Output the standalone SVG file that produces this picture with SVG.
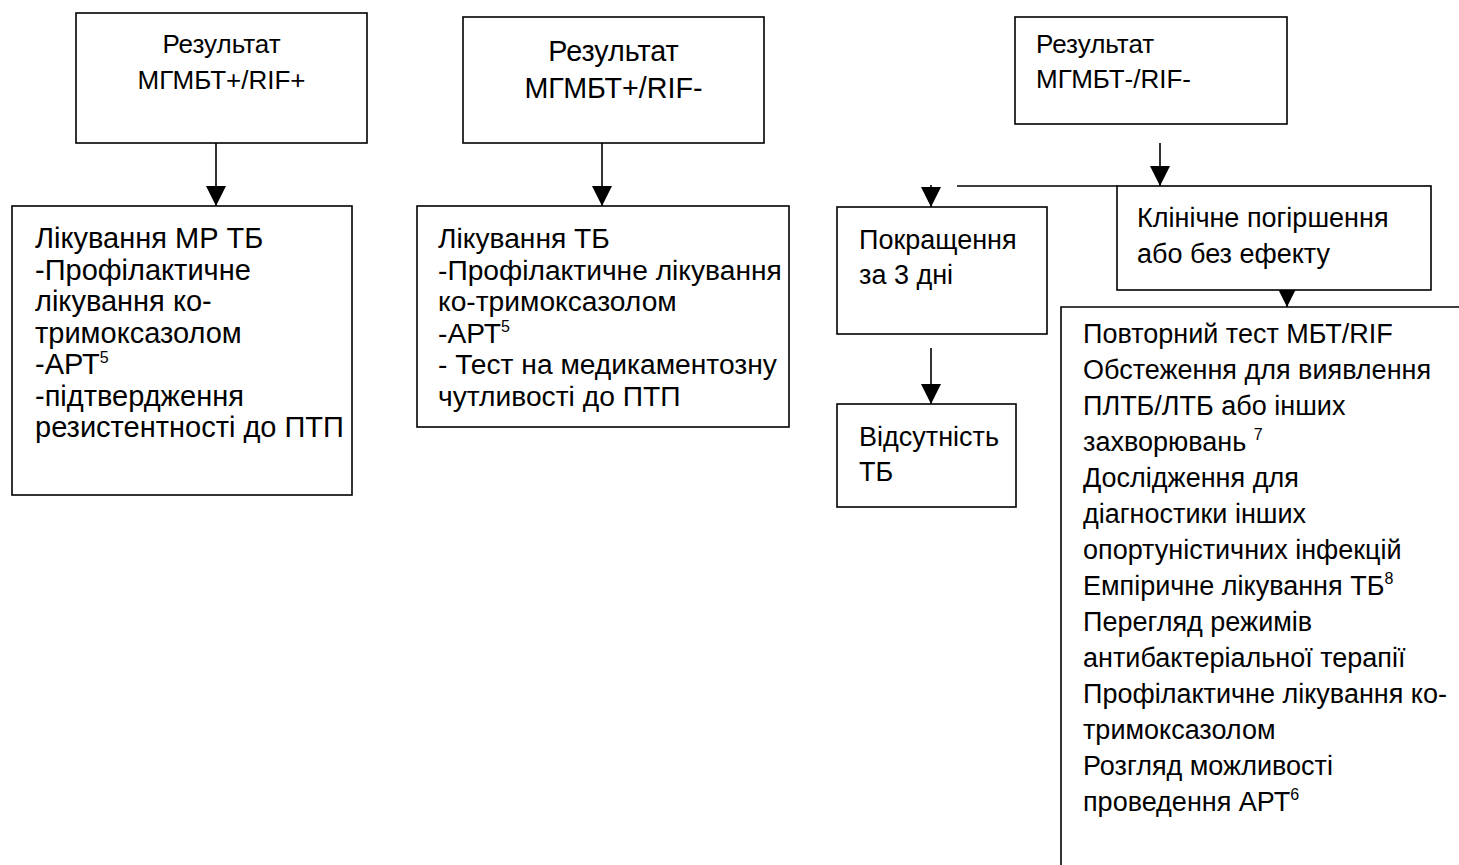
<svg xmlns="http://www.w3.org/2000/svg" width="1459" height="865" viewBox="0 0 1459 865">
<style>
.box{fill:#fff;stroke:#000;stroke-width:1.6}
.ln{fill:none;stroke:#000;stroke-width:1.6}
.t{font-family:"Liberation Sans",Arial,sans-serif;fill:#000}
.title{font-size:26px}
.title2{font-size:28.7px}
.b1{font-size:29px}
.b2{font-size:28.2px}
.br{font-size:27px}
.sup{font-size:16px}
</style>
<defs>
<marker id="ah" markerUnits="userSpaceOnUse" markerWidth="20" markerHeight="20" refX="20" refY="10" orient="auto" viewBox="0 0 20 20">
<path d="M0,0 L20,10 L0,20 z" fill="#000"/>
</marker>
</defs>
<rect width="1459" height="865" fill="#fff"/>

<g id="connectors">
<line class="ln" x1="216" y1="143" x2="216" y2="206" marker-end="url(#ah)"/>
<line class="ln" x1="602" y1="143" x2="602" y2="206" marker-end="url(#ah)"/>
<line class="ln" x1="1160" y1="143" x2="1160" y2="186" marker-end="url(#ah)"/>
<line class="ln" x1="957" y1="186" x2="1117" y2="186"/>
<line class="ln" x1="931" y1="185" x2="931" y2="207" marker-end="url(#ah)"/>
<line class="ln" x1="931" y1="348" x2="931" y2="404" marker-end="url(#ah)"/>
<line class="ln" x1="1287" y1="278" x2="1287" y2="307" marker-end="url(#ah)"/>
</g>

<g id="node-result1">
<rect class="box" x="76" y="13" width="291" height="130"/>
<text class="t title" x="221.5" y="53" text-anchor="middle">Результат</text>
<text class="t title" x="221.5" y="89" text-anchor="middle">МГМБТ+/RIF+</text>
</g>

<g id="node-result2">
<rect class="box" x="463" y="17" width="301" height="126"/>
<text class="t title2" x="613.5" y="61" text-anchor="middle">Результат</text>
<text class="t title2" x="613.5" y="98" text-anchor="middle">МГМБТ+/RIF-</text>
</g>

<g id="node-result3">
<rect class="box" x="1015" y="17" width="272" height="107"/>
<text class="t title" x="1036" y="53">Результат</text>
<text class="t title" x="1036" y="88">МГМБТ-/RIF-</text>
</g>

<g id="node-mdr">
<rect class="box" x="12" y="206" width="340" height="289"/>
<text class="t b1" x="35" y="248">Лікування МР ТБ</text>
<text class="t b1" x="35" y="279.5">-Профілактичне</text>
<text class="t b1" x="35" y="311">лікування ко-</text>
<text class="t b1" x="35" y="342.5">тримоксазолом</text>
<text class="t b1" x="35" y="374">-АРТ<tspan class="sup" dy="-11">5</tspan></text>
<text class="t b1" x="35" y="405.5">-підтвердження</text>
<text class="t b1" x="35" y="437">резистентності до ПТП</text>
</g>

<g id="node-tb">
<rect class="box" x="417" y="206" width="372" height="221"/>
<text class="t b2" x="438" y="248">Лікування ТБ</text>
<text class="t b2" x="438" y="279.5">-Профілактичне лікування</text>
<text class="t b2" x="438" y="311">ко-тримоксазолом</text>
<text class="t b2" x="438" y="342.5">-АРТ<tspan class="sup" dy="-11">5</tspan></text>
<text class="t b2" x="438" y="374">- Тест на медикаментозну</text>
<text class="t b2" x="438" y="405.5">чутливості до ПТП</text>
</g>

<g id="node-improve">
<rect class="box" x="837" y="207" width="210" height="127"/>
<text class="t br" x="859" y="249">Покращення</text>
<text class="t br" x="859" y="284">за 3 дні</text>
</g>

<g id="node-notb">
<rect class="box" x="837" y="404" width="179" height="103"/>
<text class="t br" x="859" y="446">Відсутність</text>
<text class="t br" x="859" y="481">ТБ</text>
</g>

<g id="node-worse">
<rect class="box" x="1117" y="186" width="314" height="104"/>
<text class="t br" x="1137" y="227">Клінічне погіршення</text>
<text class="t br" x="1137" y="263">або без ефекту</text>
</g>

<g id="node-actions">
<path class="ln" d="M1061,880 V307 H1470"/>
<text class="t br" x="1083" y="343">Повторний тест МБТ/RIF</text>
<text class="t br" x="1083" y="379">Обстеження для  виявлення</text>
<text class="t br" x="1083" y="415">ПЛТБ/ЛТБ або інших</text>
<text class="t br" x="1083" y="451">захворювань <tspan class="sup" dy="-11">7</tspan></text>
<text class="t br" x="1083" y="487">Дослідження для</text>
<text class="t br" x="1083" y="523">діагностики інших</text>
<text class="t br" x="1083" y="559">опортуністичних інфекцій</text>
<text class="t br" x="1083" y="595">Емпіричне лікування ТБ<tspan class="sup" dy="-11">8</tspan></text>
<text class="t br" x="1083" y="631">Перегляд режимів</text>
<text class="t br" x="1083" y="667">антибактеріальної терапії</text>
<text class="t br" x="1083" y="703">Профілактичне лікування ко-</text>
<text class="t br" x="1083" y="739">тримоксазолом</text>
<text class="t br" x="1083" y="775">Розгляд можливості</text>
<text class="t br" x="1083" y="811">проведення АРТ<tspan class="sup" dy="-11">6</tspan></text>
</g>
</svg>
